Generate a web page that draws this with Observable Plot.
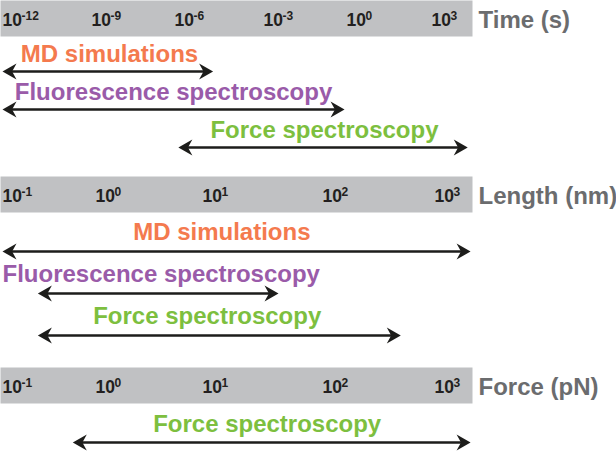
<!DOCTYPE html>
<html><head><meta charset="utf-8">
<script src="https://cdn.jsdelivr.net/npm/d3@7"></script>
<script src="https://cdn.jsdelivr.net/npm/@observablehq/plot@0.6"></script>
<style>
body{margin:0;background:#fff;}
#chart{width:616px;}
#chart svg{display:block;}
</style></head><body><div id="chart"></div>
<script>
// ---- data ----
const methods = ["MD simulations", "Fluorescence spectroscopy", "Force spectroscopy"];
const methodColors = ["#f47a4e", "#9a5ba9", "#7dbf3f"];

const timeTicks = [1e-12, 1e-9, 1e-6, 1e-3, 1, 1e3];
const timeMethods = ["MD simulations", "Fluorescence spectroscopy", "Force spectroscopy"];
const timeLow = [1e-12, 1e-12, 1.35e-6];
const timeHigh = [2e-5, 0.85, 1.9e4];

const lengthTicks = [0.1, 1, 10, 100, 1000];
const lengthMethods = ["MD simulations", "Fluorescence spectroscopy", "Force spectroscopy"];
const lengthLow = [0.1, 0.24, 0.24];
const lengthHigh = [2100, 43, 500];

const forceTicks = [0.1, 1, 10, 100, 1000];
const forceMethods = ["Force spectroscopy"];
const forceLow = [0.57];
const forceHigh = [2100];

const axisTitles = ["Time (s)", "Length (nm)", "Force (pN)"];
const tickBase = "10";

// ---- layout / style ----
const FONT = "'Liberation Sans', Arial, Helvetica, sans-serif";
const W = 616, MR = 144, STRIP_H = 36;
const INK = "#1d1d1b";
const LABEL_SIZE = 24;
const timeRange = [2, 91, 174, 263, 346, 431];
const lenRange = [2, 95, 202, 322, 434];

const headRight = {draw(ctx, size) {
  const r = Math.sqrt(size / Math.PI);
  ctx.moveTo(0, 0); ctx.lineTo(-1.75 * r, -r); ctx.lineTo(-1.2 * r, 0); ctx.lineTo(-1.75 * r, r); ctx.closePath();
}};
const headLeft = {draw(ctx, size) {
  const r = Math.sqrt(size / Math.PI);
  ctx.moveTo(0, 0); ctx.lineTo(1.75 * r, -r); ctx.lineTo(1.2 * r, 0); ctx.lineTo(1.75 * r, r); ctx.closePath();
}};

const expText = d => String(Math.round(Math.log10(d)));

// text width measurement (to keep labels inside the figure)
const measureCtx = document.createElement("canvas").getContext("2d");
measureCtx.font = `bold ${LABEL_SIZE}px ${FONT}`;
const textWidth = s => measureCtx.measureText(s).width;

function strip(ticks, range, title) {
  return Plot.plot({
    width: W, height: STRIP_H,
    marginLeft: 0, marginRight: MR, marginTop: 0, marginBottom: 0,
    x: {type: "log", domain: ticks, range, axis: null},
    style: {fontFamily: FONT, background: "white", overflow: "visible"},
    marks: [
      Plot.frame({fill: "#c0c1c3", stroke: "none"}),
      Plot.text(ticks, {x: d => d, text: () => tickBase, textAnchor: "start", lineAnchor: "bottom",
        dy: 7, fontSize: 17.5, fontWeight: "bold", fill: "#231f20"}),
      Plot.text(ticks, {x: d => d, text: expText, textAnchor: "start", lineAnchor: "bottom",
        dx: 19, dy: 1, fontSize: 12, fontWeight: "bold", fill: "#231f20"}),
      Plot.text([title], {frameAnchor: "right", textAnchor: "start", lineAnchor: "bottom",
        dx: 6, dy: 9, fontSize: 24, fontWeight: "bold", fill: "#6b6c6e"})
    ]
  });
}

function panel(names, lo, hi, ticks, range, height, mt, mb, gap) {
  const xOpts = {type: "log", domain: ticks, range};
  const xs = Plot.scale({x: xOpts});
  const rows = names.map((m, i) => {
    // label centred on the arrow (geometric mean), kept inside the left edge
    const c = Math.max(xs.apply(Math.sqrt(lo[i] * hi[i])), textWidth(m) / 2 + 2);
    return {method: m, lo: lo[i], hi: hi[i], at: xs.invert(c)};
  });
  return Plot.plot({
    width: W, height,
    marginLeft: 0, marginRight: MR, marginTop: mt, marginBottom: mb,
    x: {...xOpts, axis: null},
    y: {type: "point", domain: names, padding: 0, axis: null},
    color: {domain: methods, range: methodColors},
    style: {fontFamily: FONT, background: "white", overflow: "visible"},
    marks: [
      Plot.ruleY(rows, {y: "method", x1: "lo", x2: "hi", stroke: INK, strokeWidth: 2.6, insetLeft: 4, insetRight: 4}),
      Plot.dot(rows, {x: "lo", y: "method", symbol: headLeft, r: 8, fill: INK, stroke: "none"}),
      Plot.dot(rows, {x: "hi", y: "method", symbol: headRight, r: 8, fill: INK, stroke: "none"}),
      Plot.text(rows, {x: "at", y: "method", text: "method", fill: "method",
        fontSize: LABEL_SIZE, fontWeight: "bold", lineAnchor: "bottom", dy: -gap})
    ]
  });
}

const root = document.getElementById("chart");
root.append(
  strip(timeTicks, timeRange, axisTitles[0]),
  panel(timeMethods, timeLow, timeHigh, timeTicks, timeRange, 140, 35, 29, 10),
  strip(lengthTicks, lenRange, axisTitles[1]),
  panel(lengthMethods, lengthLow, lengthHigh, lengthTicks, lenRange, 155, 39, 32, 12),
  strip(forceTicks, lenRange, axisTitles[2]),
  panel(forceMethods, forceLow, forceHigh, forceTicks, lenRange, 52, 26, 0, 11)
);
</script></body></html>
